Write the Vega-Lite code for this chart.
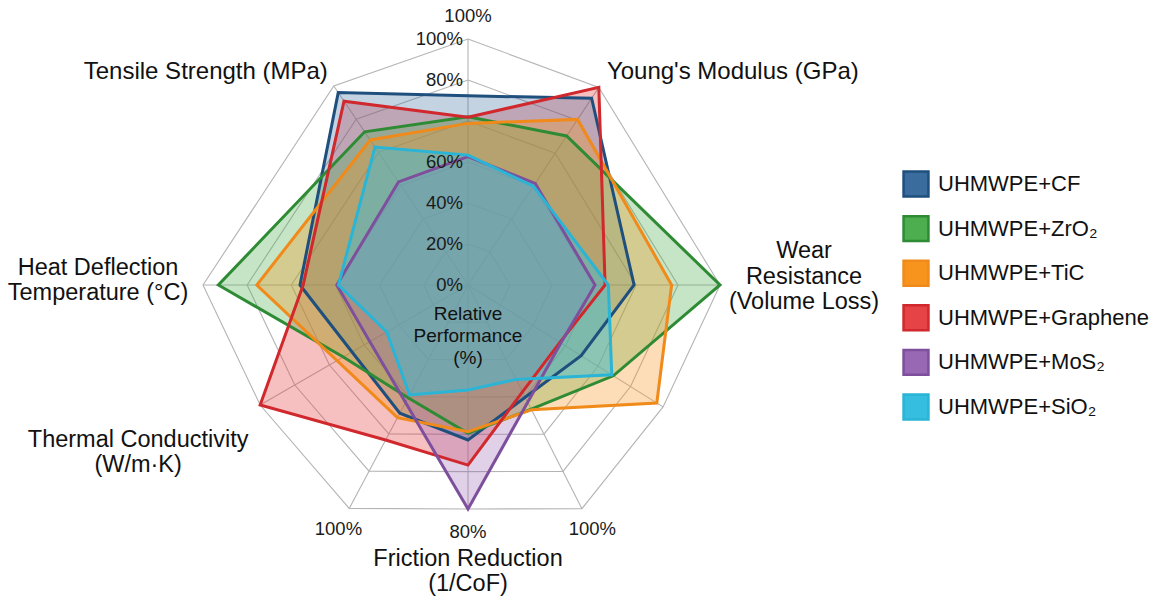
{
  "$schema": "https://vega.github.io/schema/vega-lite/v6.json",
  "width": 1166,
  "height": 603,
  "autosize": "none",
  "padding": 0,
  "background": "white",
  "config": {
    "view": {"stroke": null},
    "font": "Liberation Sans",
    "legend": {
      "orient": "none",
      "legendX": 902,
      "legendY": 170,
      "symbolType": "square",
      "symbolSize": 620,
      "symbolStrokeWidth": 2.5,
      "symbolOpacity": 1,
      "labelFontSize": 22,
      "labelFont": "Liberation Sans",
      "labelColor": "#111111",
      "labelOffset": 8,
      "labelLimit": 0,
      "rowPadding": 8.6,
      "padding": 0
    }
  },
  "datasets": {
    "spokes": [
      {"id": "S0", "order": 0, "angle": 0, "reach": 246, "rings": [1, 2, 3, 4, 5, 6], "end": "100%"},
      {"id": "S1", "order": 1, "angle": 33.5, "reach": 237, "rings": [1, 2, 3, 4, 5, 6], "name": "Young's Modulus (GPa)"},
      {"id": "S2", "order": 2, "angle": 90, "reach": 252, "rings": [1, 2, 3, 4, 5, 6], "name": "Wear\nResistance\n(Volume Loss)"},
      {"id": "S3", "order": 3, "angle": 122, "reach": 230, "rings": [1, 2, 3, 4, 5, 6]},
      {"id": "S4", "order": 4, "angle": 153, "reach": 251, "rings": [1, 2, 3, 4, 5, 6], "end": "100%"},
      {"id": "S5", "order": 5, "angle": 180, "reach": 224, "rings": [1, 2, 3, 4, 5, 6], "name": "Friction Reduction\n(1/CoF)", "end": "80%"},
      {"id": "S6", "order": 6, "angle": -152, "reach": 253, "rings": [1, 2, 3, 4, 5, 6], "end": "100%"},
      {"id": "S7", "order": 7, "angle": -120, "reach": 240, "rings": [1, 2, 3, 4, 5, 6], "name": "Thermal Conductivity\n(W/m·K)"},
      {"id": "S8", "order": 8, "angle": -90, "reach": 265, "rings": [1, 2, 3, 4, 5, 6], "name": "Heat Deflection\nTemperature (°C)"},
      {"id": "S9", "order": 9, "angle": -34, "reach": 240, "rings": [1, 2, 3, 4, 5, 6], "name": "Tensile Strength (MPa)"}
    ],
    "ticks": [
      {"spoke": "S0", "label": "0%", "ring": 0},
      {"spoke": "S0", "label": "20%", "ring": 1},
      {"spoke": "S0", "label": "40%", "ring": 2},
      {"spoke": "S0", "label": "60%", "ring": 3},
      {"spoke": "S0", "label": "80%", "ring": 5},
      {"spoke": "S0", "label": "100%", "ring": 6}
    ],
    "perf": [
      {"series": "UHMWPE+CF", "spoke": "S0", "value": 76.9},
      {"series": "UHMWPE+CF", "spoke": "S1", "value": 94.5},
      {"series": "UHMWPE+CF", "spoke": "S2", "value": 65.9},
      {"series": "UHMWPE+CF", "spoke": "S3", "value": 58.0},
      {"series": "UHMWPE+CF", "spoke": "S4", "value": 50.2},
      {"series": "UHMWPE+CF", "spoke": "S5", "value": 69.2},
      {"series": "UHMWPE+CF", "spoke": "S6", "value": 57.4},
      {"series": "UHMWPE+CF", "spoke": "S7", "value": 55.8},
      {"series": "UHMWPE+CF", "spoke": "S8", "value": 63.4},
      {"series": "UHMWPE+CF", "spoke": "S9", "value": 96.7},
      {"series": "UHMWPE+ZrO₂", "spoke": "S0", "value": 68.4},
      {"series": "UHMWPE+ZrO₂", "spoke": "S1", "value": 75.4},
      {"series": "UHMWPE+ZrO₂", "spoke": "S2", "value": 100},
      {"series": "UHMWPE+ZrO₂", "spoke": "S3", "value": 74.5},
      {"series": "UHMWPE+ZrO₂", "spoke": "S4", "value": 55.5},
      {"series": "UHMWPE+ZrO₂", "spoke": "S5", "value": 66.2},
      {"series": "UHMWPE+ZrO₂", "spoke": "S6", "value": 50.5},
      {"series": "UHMWPE+ZrO₂", "spoke": "S7", "value": 60.0},
      {"series": "UHMWPE+ZrO₂", "spoke": "S8", "value": 94.2},
      {"series": "UHMWPE+ZrO₂", "spoke": "S9", "value": 77.0},
      {"series": "UHMWPE+TiC", "spoke": "S0", "value": 65.7},
      {"series": "UHMWPE+TiC", "spoke": "S1", "value": 83.8},
      {"series": "UHMWPE+TiC", "spoke": "S2", "value": 80.8},
      {"series": "UHMWPE+TiC", "spoke": "S3", "value": 96.8},
      {"series": "UHMWPE+TiC", "spoke": "S4", "value": 55.8},
      {"series": "UHMWPE+TiC", "spoke": "S5", "value": 65.5},
      {"series": "UHMWPE+TiC", "spoke": "S6", "value": 59.4},
      {"series": "UHMWPE+TiC", "spoke": "S7", "value": 63.0},
      {"series": "UHMWPE+TiC", "spoke": "S8", "value": 79.7},
      {"series": "UHMWPE+TiC", "spoke": "S9", "value": 72.9},
      {"series": "UHMWPE+Graphene", "spoke": "S0", "value": 68.2},
      {"series": "UHMWPE+Graphene", "spoke": "S1", "value": 100},
      {"series": "UHMWPE+Graphene", "spoke": "S2", "value": 54.4},
      {"series": "UHMWPE+Graphene", "spoke": "S3", "value": 47.1},
      {"series": "UHMWPE+Graphene", "spoke": "S4", "value": 47.8},
      {"series": "UHMWPE+Graphene", "spoke": "S5", "value": 80.4},
      {"series": "UHMWPE+Graphene", "spoke": "S6", "value": 69.4},
      {"series": "UHMWPE+Graphene", "spoke": "S7", "value": 100},
      {"series": "UHMWPE+Graphene", "spoke": "S8", "value": 62.2},
      {"series": "UHMWPE+Graphene", "spoke": "S9", "value": 92.4},
      {"series": "UHMWPE+MoS₂", "spoke": "S0", "value": 52.2},
      {"series": "UHMWPE+MoS₂", "spoke": "S1", "value": 51.4},
      {"series": "UHMWPE+MoS₂", "spoke": "S2", "value": 50.4},
      {"series": "UHMWPE+MoS₂", "spoke": "S3", "value": 47.6},
      {"series": "UHMWPE+MoS₂", "spoke": "S4", "value": 52.4},
      {"series": "UHMWPE+MoS₂", "spoke": "S5", "value": 100},
      {"series": "UHMWPE+MoS₂", "spoke": "S6", "value": 52.6},
      {"series": "UHMWPE+MoS₂", "spoke": "S7", "value": 47.2},
      {"series": "UHMWPE+MoS₂", "spoke": "S8", "value": 49.5},
      {"series": "UHMWPE+MoS₂", "spoke": "S9", "value": 51.8},
      {"series": "UHMWPE+SiO₂", "spoke": "S0", "value": 52.8},
      {"series": "UHMWPE+SiO₂", "spoke": "S1", "value": 50.0},
      {"series": "UHMWPE+SiO₂", "spoke": "S2", "value": 55.7},
      {"series": "UHMWPE+SiO₂", "spoke": "S3", "value": 73.7},
      {"series": "UHMWPE+SiO₂", "spoke": "S4", "value": 42.2},
      {"series": "UHMWPE+SiO₂", "spoke": "S5", "value": 46.9},
      {"series": "UHMWPE+SiO₂", "spoke": "S6", "value": 49.2},
      {"series": "UHMWPE+SiO₂", "spoke": "S7", "value": 39.1},
      {"series": "UHMWPE+SiO₂", "spoke": "S8", "value": 48.9},
      {"series": "UHMWPE+SiO₂", "spoke": "S9", "value": 69.3}
    ]
  },
  "layer": [
    {
      "data": {"name": "spokes"},
      "transform": [
        {"flatten": ["rings"], "as": ["ring"]},
        {"calculate": "datum.ring / 6 * datum.reach", "as": "rad"},
        {"calculate": "datum.rad * sin(datum.angle * PI / 180)", "as": "px"},
        {"calculate": "datum.rad * cos(datum.angle * PI / 180)", "as": "py"}
      ],
      "mark": {"type": "line", "interpolate": "linear-closed", "stroke": "#b4b4b4", "strokeWidth": 1.1},
      "encoding": {
        "x": {"field": "px", "type": "quantitative", "scale": {"domain": [-468, 698], "nice": false, "zero": false}, "axis": null},
        "y": {"field": "py", "type": "quantitative", "scale": {"domain": [-318, 285], "nice": false, "zero": false}, "axis": null},
        "detail": {"field": "ring", "type": "nominal"},
        "order": {"field": "order", "type": "quantitative"}
      }
    },
    {
      "data": {"name": "spokes"},
      "transform": [
        {"calculate": "0", "as": "cx"},
        {"calculate": "datum.reach * sin(datum.angle * PI / 180)", "as": "px"},
        {"calculate": "datum.reach * cos(datum.angle * PI / 180)", "as": "py"}
      ],
      "mark": {"type": "rule", "stroke": "#b4b4b4", "strokeWidth": 1.1},
      "encoding": {
        "x": {"field": "cx", "type": "quantitative", "scale": {"domain": [-468, 698], "nice": false, "zero": false}, "axis": null},
        "y": {"field": "cx", "type": "quantitative", "scale": {"domain": [-318, 285], "nice": false, "zero": false}, "axis": null},
        "x2": {"field": "px"},
        "y2": {"field": "py"}
      }
    },
    {
      "data": {"name": "perf"},
      "transform": [
        {"lookup": "spoke", "from": {"data": {"name": "spokes"}, "key": "id", "fields": ["angle", "reach", "order"]}},
        {"calculate": "datum.value / 100 * datum.reach", "as": "rad"},
        {"calculate": "datum.rad * sin(datum.angle * PI / 180)", "as": "px"},
        {"calculate": "datum.rad * cos(datum.angle * PI / 180)", "as": "py"}
      ],
      "encoding": {
        "x": {"field": "px", "type": "quantitative", "scale": {"domain": [-468, 698], "nice": false, "zero": false}, "axis": null},
        "y": {"field": "py", "type": "quantitative", "scale": {"domain": [-318, 285], "nice": false, "zero": false}, "axis": null},
        "order": {"field": "order", "type": "quantitative"}
      },
      "layer": [
        {
          "transform": [{"filter": "datum.series === 'UHMWPE+Graphene'"}],
          "mark": {"type": "line", "interpolate": "linear-closed", "strokeOpacity": 0, "fillOpacity": 0.34},
          "encoding": {"fill": {"field": "series", "type": "nominal", "title": null, "scale": {"domain": ["UHMWPE+CF", "UHMWPE+ZrO₂", "UHMWPE+TiC", "UHMWPE+Graphene", "UHMWPE+MoS₂", "UHMWPE+SiO₂"], "range": ["#3a6d9e", "#4cae4f", "#f7941e", "#e54346", "#9868b4", "#36bee0"]}}}
        },
        {
          "transform": [{"filter": "datum.series === 'UHMWPE+CF'"}],
          "mark": {"type": "line", "interpolate": "linear-closed", "strokeOpacity": 0, "fillOpacity": 0.3},
          "encoding": {"fill": {"field": "series", "type": "nominal", "title": null, "scale": {"domain": ["UHMWPE+CF", "UHMWPE+ZrO₂", "UHMWPE+TiC", "UHMWPE+Graphene", "UHMWPE+MoS₂", "UHMWPE+SiO₂"], "range": ["#3a6d9e", "#4cae4f", "#f7941e", "#e54346", "#9868b4", "#36bee0"]}}}
        },
        {
          "transform": [{"filter": "datum.series === 'UHMWPE+ZrO₂'"}],
          "mark": {"type": "line", "interpolate": "linear-closed", "strokeOpacity": 0, "fillOpacity": 0.32},
          "encoding": {"fill": {"field": "series", "type": "nominal", "title": null, "scale": {"domain": ["UHMWPE+CF", "UHMWPE+ZrO₂", "UHMWPE+TiC", "UHMWPE+Graphene", "UHMWPE+MoS₂", "UHMWPE+SiO₂"], "range": ["#3a6d9e", "#4cae4f", "#f7941e", "#e54346", "#9868b4", "#36bee0"]}}}
        },
        {
          "transform": [{"filter": "datum.series === 'UHMWPE+TiC'"}],
          "mark": {"type": "line", "interpolate": "linear-closed", "strokeOpacity": 0, "fillOpacity": 0.32},
          "encoding": {"fill": {"field": "series", "type": "nominal", "title": null, "scale": {"domain": ["UHMWPE+CF", "UHMWPE+ZrO₂", "UHMWPE+TiC", "UHMWPE+Graphene", "UHMWPE+MoS₂", "UHMWPE+SiO₂"], "range": ["#3a6d9e", "#4cae4f", "#f7941e", "#e54346", "#9868b4", "#36bee0"]}}}
        },
        {
          "transform": [{"filter": "datum.series === 'UHMWPE+MoS₂'"}],
          "mark": {"type": "line", "interpolate": "linear-closed", "strokeOpacity": 0, "fillOpacity": 0.3},
          "encoding": {"fill": {"field": "series", "type": "nominal", "title": null, "scale": {"domain": ["UHMWPE+CF", "UHMWPE+ZrO₂", "UHMWPE+TiC", "UHMWPE+Graphene", "UHMWPE+MoS₂", "UHMWPE+SiO₂"], "range": ["#3a6d9e", "#4cae4f", "#f7941e", "#e54346", "#9868b4", "#36bee0"]}}}
        },
        {
          "transform": [{"filter": "datum.series === 'UHMWPE+SiO₂'"}],
          "mark": {"type": "line", "interpolate": "linear-closed", "strokeOpacity": 0, "fillOpacity": 0.45},
          "encoding": {"fill": {"field": "series", "type": "nominal", "title": null, "scale": {"domain": ["UHMWPE+CF", "UHMWPE+ZrO₂", "UHMWPE+TiC", "UHMWPE+Graphene", "UHMWPE+MoS₂", "UHMWPE+SiO₂"], "range": ["#3a6d9e", "#4cae4f", "#f7941e", "#e54346", "#9868b4", "#36bee0"]}}}
        },
        {
          "transform": [{"filter": "datum.series === 'UHMWPE+CF'"}],
          "mark": {"type": "line", "interpolate": "linear-closed", "strokeWidth": 3, "strokeJoin": "miter"},
          "encoding": {"stroke": {"field": "series", "type": "nominal", "title": null, "scale": {"domain": ["UHMWPE+CF", "UHMWPE+ZrO₂", "UHMWPE+TiC", "UHMWPE+Graphene", "UHMWPE+MoS₂", "UHMWPE+SiO₂"], "range": ["#1f4f7d", "#2e8b34", "#f08a1a", "#d0282c", "#7e4f9c", "#2ab4d6"]}}}
        },
        {
          "transform": [{"filter": "datum.series === 'UHMWPE+ZrO₂'"}],
          "mark": {"type": "line", "interpolate": "linear-closed", "strokeWidth": 3, "strokeJoin": "miter"},
          "encoding": {"stroke": {"field": "series", "type": "nominal", "title": null, "scale": {"domain": ["UHMWPE+CF", "UHMWPE+ZrO₂", "UHMWPE+TiC", "UHMWPE+Graphene", "UHMWPE+MoS₂", "UHMWPE+SiO₂"], "range": ["#1f4f7d", "#2e8b34", "#f08a1a", "#d0282c", "#7e4f9c", "#2ab4d6"]}}}
        },
        {
          "transform": [{"filter": "datum.series === 'UHMWPE+TiC'"}],
          "mark": {"type": "line", "interpolate": "linear-closed", "strokeWidth": 3, "strokeJoin": "miter"},
          "encoding": {"stroke": {"field": "series", "type": "nominal", "title": null, "scale": {"domain": ["UHMWPE+CF", "UHMWPE+ZrO₂", "UHMWPE+TiC", "UHMWPE+Graphene", "UHMWPE+MoS₂", "UHMWPE+SiO₂"], "range": ["#1f4f7d", "#2e8b34", "#f08a1a", "#d0282c", "#7e4f9c", "#2ab4d6"]}}}
        },
        {
          "transform": [{"filter": "datum.series === 'UHMWPE+Graphene'"}],
          "mark": {"type": "line", "interpolate": "linear-closed", "strokeWidth": 3, "strokeJoin": "miter"},
          "encoding": {"stroke": {"field": "series", "type": "nominal", "title": null, "scale": {"domain": ["UHMWPE+CF", "UHMWPE+ZrO₂", "UHMWPE+TiC", "UHMWPE+Graphene", "UHMWPE+MoS₂", "UHMWPE+SiO₂"], "range": ["#1f4f7d", "#2e8b34", "#f08a1a", "#d0282c", "#7e4f9c", "#2ab4d6"]}}}
        },
        {
          "transform": [{"filter": "datum.series === 'UHMWPE+MoS₂'"}],
          "mark": {"type": "line", "interpolate": "linear-closed", "strokeWidth": 3, "strokeJoin": "miter"},
          "encoding": {"stroke": {"field": "series", "type": "nominal", "title": null, "scale": {"domain": ["UHMWPE+CF", "UHMWPE+ZrO₂", "UHMWPE+TiC", "UHMWPE+Graphene", "UHMWPE+MoS₂", "UHMWPE+SiO₂"], "range": ["#1f4f7d", "#2e8b34", "#f08a1a", "#d0282c", "#7e4f9c", "#2ab4d6"]}}}
        },
        {
          "transform": [{"filter": "datum.series === 'UHMWPE+SiO₂'"}],
          "mark": {"type": "line", "interpolate": "linear-closed", "strokeWidth": 3, "strokeJoin": "miter"},
          "encoding": {"stroke": {"field": "series", "type": "nominal", "title": null, "scale": {"domain": ["UHMWPE+CF", "UHMWPE+ZrO₂", "UHMWPE+TiC", "UHMWPE+Graphene", "UHMWPE+MoS₂", "UHMWPE+SiO₂"], "range": ["#1f4f7d", "#2e8b34", "#f08a1a", "#d0282c", "#7e4f9c", "#2ab4d6"]}}}
        }
      ]
    },
    {
      "data": {"name": "ticks"},
      "transform": [
        {"lookup": "spoke", "from": {"data": {"name": "spokes"}, "key": "id", "fields": ["reach"]}},
        {"calculate": "0", "as": "cx"},
        {"calculate": "datum.ring / 6 * datum.reach", "as": "py"}
      ],
      "mark": {"type": "text", "align": "right", "baseline": "middle", "dx": -5, "fontSize": 18.5, "fill": "#1a1a1a"},
      "encoding": {
        "x": {"field": "cx", "type": "quantitative", "scale": {"domain": [-468, 698], "nice": false, "zero": false}, "axis": null},
        "y": {"field": "py", "type": "quantitative", "scale": {"domain": [-318, 285], "nice": false, "zero": false}, "axis": null},
        "text": {"field": "label", "type": "nominal"}
      }
    },
    {
      "data": {"name": "spokes"},
      "transform": [
        {"filter": "datum.end"},
        {"calculate": "datum.reach + 23", "as": "rad"},
        {"calculate": "datum.rad * sin(datum.angle * PI / 180)", "as": "px"},
        {"calculate": "datum.rad * cos(datum.angle * PI / 180)", "as": "py"}
      ],
      "mark": {"type": "text", "align": "center", "baseline": "middle", "fontSize": 18.5, "fill": "#1a1a1a"},
      "encoding": {
        "x": {"field": "px", "type": "quantitative", "scale": {"domain": [-468, 698], "nice": false, "zero": false}, "axis": null},
        "y": {"field": "py", "type": "quantitative", "scale": {"domain": [-318, 285], "nice": false, "zero": false}, "axis": null},
        "text": {"field": "end", "type": "nominal"}
      }
    },
    {
      "data": {"name": "spokes"},
      "transform": [
        {"filter": "datum.id === 'S9'"},
        {"calculate": "datum.reach * sin(datum.angle * PI / 180)", "as": "px"},
        {"calculate": "datum.reach * cos(datum.angle * PI / 180)", "as": "py"}
      ],
      "mark": {"type": "text", "align": "center", "baseline": "middle", "dx": -128, "dy": -14, "fontSize": 24, "fill": "#111111"},
      "encoding": {
        "x": {"field": "px", "type": "quantitative", "scale": {"domain": [-468, 698], "nice": false, "zero": false}, "axis": null},
        "y": {"field": "py", "type": "quantitative", "scale": {"domain": [-318, 285], "nice": false, "zero": false}, "axis": null},
        "text": {"field": "name", "type": "nominal"}
      }
    },
    {
      "data": {"name": "spokes"},
      "transform": [
        {"filter": "datum.id === 'S1'"},
        {"calculate": "datum.reach * sin(datum.angle * PI / 180)", "as": "px"},
        {"calculate": "datum.reach * cos(datum.angle * PI / 180)", "as": "py"}
      ],
      "mark": {"type": "text", "align": "center", "baseline": "middle", "dx": 134, "dy": -15, "fontSize": 24, "fill": "#111111"},
      "encoding": {
        "x": {"field": "px", "type": "quantitative", "scale": {"domain": [-468, 698], "nice": false, "zero": false}, "axis": null},
        "y": {"field": "py", "type": "quantitative", "scale": {"domain": [-318, 285], "nice": false, "zero": false}, "axis": null},
        "text": {"field": "name", "type": "nominal"}
      }
    },
    {
      "data": {"name": "spokes"},
      "transform": [
        {"filter": "datum.id === 'S2'"},
        {"calculate": "datum.reach * sin(datum.angle * PI / 180)", "as": "px"},
        {"calculate": "datum.reach * cos(datum.angle * PI / 180)", "as": "py"}
      ],
      "mark": {"type": "text", "align": "center", "baseline": "top", "dx": 84, "dy": -46, "fontSize": 23.5, "lineHeight": 25.5, "lineBreak": "\n", "fill": "#111111"},
      "encoding": {
        "x": {"field": "px", "type": "quantitative", "scale": {"domain": [-468, 698], "nice": false, "zero": false}, "axis": null},
        "y": {"field": "py", "type": "quantitative", "scale": {"domain": [-318, 285], "nice": false, "zero": false}, "axis": null},
        "text": {"field": "name", "type": "nominal"}
      }
    },
    {
      "data": {"name": "spokes"},
      "transform": [
        {"filter": "datum.id === 'S8'"},
        {"calculate": "datum.reach * sin(datum.angle * PI / 180)", "as": "px"},
        {"calculate": "datum.reach * cos(datum.angle * PI / 180)", "as": "py"}
      ],
      "mark": {"type": "text", "align": "center", "baseline": "top", "dx": -105, "dy": -29, "fontSize": 23.5, "lineHeight": 25, "lineBreak": "\n", "fill": "#111111"},
      "encoding": {
        "x": {"field": "px", "type": "quantitative", "scale": {"domain": [-468, 698], "nice": false, "zero": false}, "axis": null},
        "y": {"field": "py", "type": "quantitative", "scale": {"domain": [-318, 285], "nice": false, "zero": false}, "axis": null},
        "text": {"field": "name", "type": "nominal"}
      }
    },
    {
      "data": {"name": "spokes"},
      "transform": [
        {"filter": "datum.id === 'S7'"},
        {"calculate": "datum.reach * sin(datum.angle * PI / 180)", "as": "px"},
        {"calculate": "datum.reach * cos(datum.angle * PI / 180)", "as": "py"}
      ],
      "mark": {"type": "text", "align": "center", "baseline": "top", "dx": -122, "dy": 23, "fontSize": 23.5, "lineHeight": 25, "lineBreak": "\n", "fill": "#111111"},
      "encoding": {
        "x": {"field": "px", "type": "quantitative", "scale": {"domain": [-468, 698], "nice": false, "zero": false}, "axis": null},
        "y": {"field": "py", "type": "quantitative", "scale": {"domain": [-318, 285], "nice": false, "zero": false}, "axis": null},
        "text": {"field": "name", "type": "nominal"}
      }
    },
    {
      "data": {"name": "spokes"},
      "transform": [
        {"filter": "datum.id === 'S5'"},
        {"calculate": "datum.reach * sin(datum.angle * PI / 180)", "as": "px"},
        {"calculate": "datum.reach * cos(datum.angle * PI / 180)", "as": "py"}
      ],
      "mark": {"type": "text", "align": "center", "baseline": "top", "dx": 0, "dy": 38, "fontSize": 23.5, "lineHeight": 25, "lineBreak": "\n", "fill": "#111111"},
      "encoding": {
        "x": {"field": "px", "type": "quantitative", "scale": {"domain": [-468, 698], "nice": false, "zero": false}, "axis": null},
        "y": {"field": "py", "type": "quantitative", "scale": {"domain": [-318, 285], "nice": false, "zero": false}, "axis": null},
        "text": {"field": "name", "type": "nominal"}
      }
    },
    {
      "data": {"values": [{"caption": "Relative\nPerformance\n(%)"}]},
      "transform": [{"calculate": "0", "as": "cx"}],
      "mark": {"type": "text", "align": "center", "baseline": "top", "dy": 20, "fontSize": 19, "lineHeight": 22, "lineBreak": "\n", "fill": "#111111"},
      "encoding": {
        "x": {"field": "cx", "type": "quantitative", "scale": {"domain": [-468, 698], "nice": false, "zero": false}, "axis": null},
        "y": {"field": "cx", "type": "quantitative", "scale": {"domain": [-318, 285], "nice": false, "zero": false}, "axis": null},
        "text": {"field": "caption", "type": "nominal"}
      }
    }
  ]
}
